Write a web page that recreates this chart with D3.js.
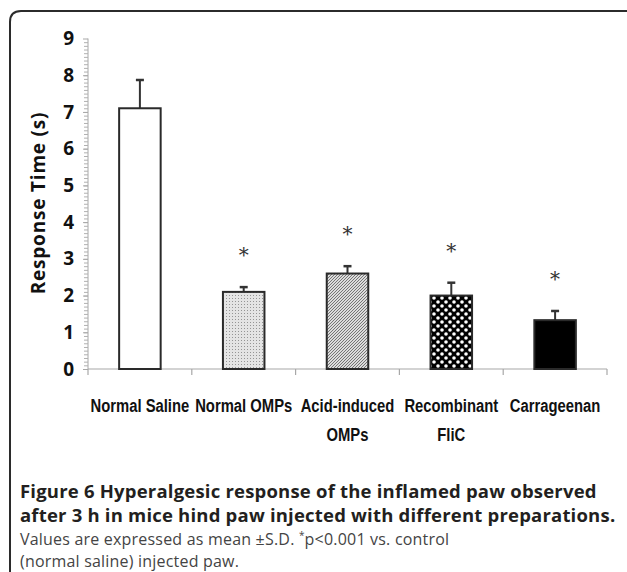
<!DOCTYPE html>
<meta charset="utf-8">
<script src="https://d3js.org/d3.v7.min.js"></script>
<style>
  body { margin: 0; background: #fff; }
</style>
<div id="chart"></div>
<script>

// Data
var groups = ["Normal Saline", "Normal OMPs", "Acid-induced OMPs", "Recombinant FliC", "Carrageenan"];
var labelLines = [["Normal Saline"], ["Normal OMPs"], ["Acid-induced", "OMPs"], ["Recombinant", "FliC"], ["Carrageenan"]];
var means = [7.1, 2.1, 2.6, 2.0, 1.33];
var sds = [0.77, 0.13, 0.2, 0.35, 0.25];
var significant = [false, true, true, true, true];
var fills = ["white", "url(#dots)", "url(#diag)", "url(#checker)", "#000"];
var yTicks = [0, 1, 2, 3, 4, 5, 6, 7, 8, 9];

var W = 627, H = 572;
var svg = d3.select("#chart").append("svg")
    .attr("width", W)
    .attr("height", H);

// Fill patterns for the bars
var defs = svg.append("defs");
var p = defs.append("pattern").attr("id", "dots").attr("patternUnits", "userSpaceOnUse")
    .attr("width", 3).attr("height", 3);
p.append("rect").attr("width", 3).attr("height", 3).attr("fill", "#e4e4e4");
p.append("rect").attr("x", 1).attr("y", 1).attr("width", 1).attr("height", 1).attr("fill", "#959595");

p = defs.append("pattern").attr("id", "diag").attr("patternUnits", "userSpaceOnUse")
    .attr("width", 3).attr("height", 3);
p.append("rect").attr("width", 3).attr("height", 3).attr("fill", "#dcdcdc");
p.append("path").attr("d", "M-1,1 l2,-2 M0,3 l3,-3 M2,4 l2,-2")
    .attr("stroke", "#6a6a6a").attr("stroke-width", 0.9);

p = defs.append("pattern").attr("id", "checker").attr("patternUnits", "userSpaceOnUse")
    .attr("width", 8).attr("height", 8);
p.append("rect").attr("width", 8).attr("height", 8).attr("fill", "#000");
p.append("circle").attr("cx", 2).attr("cy", 2).attr("r", 1.8).attr("fill", "#fff");
p.append("circle").attr("cx", 6).attr("cy", 6).attr("r", 1.8).attr("fill", "#fff");

// Figure frame (rounded top-left corner)
svg.append("path")
    .attr("d", "M10,572 L10,22 Q10,11 21,11 L627,11")
    .attr("fill", "none")
    .attr("stroke", "#2b2b2b")
    .attr("stroke-width", 2);

// Scales
var x = d3.scaleBand()
    .domain(groups)
    .range([88, 607])
    .paddingInner(0.6)
    .paddingOuter(0.3);

var y = d3.scaleLinear()
    .domain([0, 9])
    .range([369, 38.5]);

// Y axis: grey line, minor ticks every 0.1
var yAxis = svg.append("g")
    .attr("transform", "translate(88,0)")
    .call(d3.axisLeft(y).tickValues(d3.range(0, 90).map(function(d) { return d / 10; })).tickSize(4).tickFormat(""));
yAxis.select(".domain").attr("stroke", "#a8a8a8").attr("d", "M0," + y(9) + "V" + y(0));
yAxis.selectAll(".tick line").attr("stroke", "#b0b0b0").attr("x2", -4);

var yMajor = svg.append("g")
    .attr("transform", "translate(88,0)")
    .call(d3.axisLeft(y).tickValues(yTicks).tickSize(5).tickPadding(9));
yMajor.select(".domain").remove();
yMajor.selectAll(".tick line").attr("stroke", "#a8a8a8");
yMajor.selectAll(".tick text")
    .attr("fill", "#111")
    .style("font-family", "'Open Sans', sans-serif")
    .style("font-weight", "bold")
    .style("font-size", "19px");

// X axis: grey line with ticks between categories
var boundaries = groups.map(function(g) { return x(g) - x.step() * x.paddingInner() / 2; });
boundaries.push(607);
svg.append("line")
    .attr("x1", 88).attr("x2", 607)
    .attr("y1", y(0)).attr("y2", y(0))
    .attr("stroke", "#a8a8a8").attr("stroke-width", 1.2);
svg.selectAll(".xtick")
    .data(boundaries)
    .enter().append("line")
    .attr("x1", function(d) { return d; })
    .attr("x2", function(d) { return d; })
    .attr("y1", y(0)).attr("y2", y(0) + 6)
    .attr("stroke", "#a8a8a8").attr("stroke-width", 1.2);

// Error bars (upper only)
var errG = svg.append("g");
groups.forEach(function(g, i) {
    var cx = x(g) + x.bandwidth() / 2;
    errG.append("line")
        .attr("x1", cx).attr("x2", cx)
        .attr("y1", y(means[i])).attr("y2", y(means[i] + sds[i]))
        .attr("stroke", "#333").attr("stroke-width", 2);
    errG.append("line")
        .attr("x1", cx - 4).attr("x2", cx + 4)
        .attr("y1", y(means[i] + sds[i])).attr("y2", y(means[i] + sds[i]))
        .attr("stroke", "#333").attr("stroke-width", 2.5);
});

// Bars
svg.selectAll(".bar")
    .data(groups)
    .enter().append("rect")
    .attr("x", function(d) { return x(d); })
    .attr("y", function(d, i) { return y(means[i]); })
    .attr("width", x.bandwidth())
    .attr("height", function(d, i) { return y(0) - y(means[i]); })
    .attr("fill", function(d, i) { return fills[i]; })
    .attr("stroke", "#2a2a2a")
    .attr("stroke-width", 2);

// Significance asterisks
svg.selectAll(".star")
    .data(groups.filter(function(d, i) { return significant[i]; }))
    .enter().append("text")
    .attr("x", function(d) { return x(d) + x.bandwidth() / 2; })
    .attr("y", function(d) { var i = groups.indexOf(d); return y(means[i] + sds[i]) - 25; })
    .attr("text-anchor", "middle")
    .attr("fill", "#333")
    .style("font-family", "'DejaVu Serif', serif")
    .style("font-size", "20px")
    .text("*");

// Category labels (condensed bold, squeezed horizontally)
var labels = svg.selectAll(".xlabel")
    .data(groups)
    .enter().append("text")
    .attr("transform", function(d) { return "translate(" + (x(d) + x.bandwidth() / 2) + ",0) scale(0.78,1)"; })
    .attr("text-anchor", "middle")
    .attr("fill", "#111")
    .style("font-family", "'Liberation Sans', Arial, sans-serif")
    .style("font-weight", "bold")
    .style("font-size", "19px");
labels.each(function(d, i) {
    var t = d3.select(this);
    labelLines[i].forEach(function(line, k) {
        t.append("tspan")
            .attr("x", 0)
            .attr("y", 412 + k * 29)
            .text(line);
    });
});

// Y axis title
svg.append("text")
    .attr("transform", "translate(45,203) rotate(-90)")
    .attr("text-anchor", "middle")
    .attr("fill", "#111")
    .style("font-family", "'Open Sans', sans-serif")
    .style("font-weight", "bold")
    .style("font-size", "19px")
    .style("letter-spacing", "0.8px")
    .text("Response Time (s)");

// Caption
var cap = svg.append("g").style("font-family", "'Open Sans', sans-serif");
cap.append("text").attr("x", 20).attr("y", 498).attr("fill", "#231f20")
    .style("font-weight", "bold").style("font-size", "18.5px").style("letter-spacing", "0.2px")
    .text("Figure 6 Hyperalgesic response of the inflamed paw observed");
cap.append("text").attr("x", 20).attr("y", 522).attr("fill", "#231f20")
    .style("font-weight", "bold").style("font-size", "18.5px").style("letter-spacing", "0.2px")
    .text("after 3 h in mice hind paw injected with different preparations.");
var l3 = cap.append("text").attr("x", 20).attr("y", 545).attr("fill", "#444")
    .style("font-size", "16px").style("letter-spacing", "0.2px");
l3.append("tspan").text("Values are expressed as mean \u00B1S.D. ");
l3.append("tspan").attr("dy", -6).style("font-size", "10px").text("*");
l3.append("tspan").attr("dy", 6).text("p<0.001 vs. control");
cap.append("text").attr("x", 20).attr("y", 567).attr("fill", "#444")
    .style("font-size", "16px").style("letter-spacing", "0.2px")
    .text("(normal saline) injected paw.");

</script>
